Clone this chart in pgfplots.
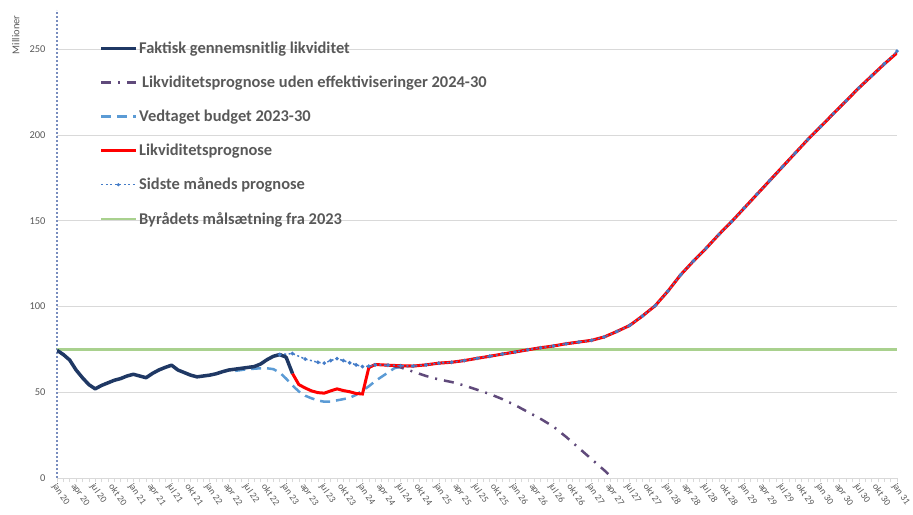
\documentclass[border=0pt]{standalone}
\usepackage{pgfplots}
\pgfplotsset{compat=1.18}
\usepackage{fontspec}
\setmainfont{Carlito}
\definecolor{navyc}{RGB}{31,56,100}
\definecolor{purplec}{RGB}{96,74,123}
\definecolor{budgetc}{RGB}{91,155,213}
\definecolor{sidstec}{RGB}{68,124,200}
\definecolor{greenc}{RGB}{169,209,142}
\definecolor{txtc}{RGB}{89,89,89}
\definecolor{gridc}{RGB}{217,217,217}
\definecolor{yaxc}{RGB}{120,140,190}
\begin{document}
\begin{tikzpicture}
\path[use as bounding box] (-57bp,-37bp) rectangle (856bp,478bp);
\begin{axis}[
  at={(0,0)}, anchor=south west,
  scale only axis, width=840bp, height=468bp,
  xmin=0, xmax=132, ymin=0, ymax=273,
  axis x line*=bottom, axis y line*=left,
  x axis line style={draw=gridc, line width=0.8bp},
  y axis line style={draw=yaxc, line width=1.6bp, dash pattern=on 2bp off 2bp},
  xtick={0,3,...,132},
  xticklabels={jan 20,apr 20,jul 20,okt 20,jan 21,apr 21,jul 21,okt 21,jan 22,apr 22,jul 22,okt 22,jan 23,apr 23,jul 23,okt 23,jan 24,apr 24,jul 24,okt 24,jan 25,apr 25,jul 25,okt 25,jan 26,apr 26,jul 26,okt 26,jan 27,apr 27,jul 27,okt 27,jan 28,apr 28,jul 28,okt 28,jan 29,apr 29,jul 29,okt 29,jan 30,apr 30,jul 30,okt 30,jan 31},
  minor x tick num=2,
  tick align=outside,
  major tick length=4bp, minor tick length=4bp,
  xtick style={draw=gridc, line width=0.6bp},
  ytick={0,50,...,250},
  ytick style={draw=none},
  ymajorgrids, grid style={draw=gridc, line width=0.8bp},
  /pgf/number format/assume math mode=true,
  ticklabel style={font=\fontsize{10.5}{12}\selectfont, text=txtc},
  xticklabel style={rotate=-55, anchor=west, xshift=-3bp, yshift=-4bp, font=\fontsize{9.5}{11}\selectfont},
  yticklabel style={xshift=-4bp},
  ylabel={Millioner},
  ylabel style={at={(axis description cs:-0.049,0.947)}, anchor=center, font=\fontsize{10.5}{12}\selectfont, text=txtc},
  legend image code/.code={\draw[mark repeat=2,mark phase=2,#1] plot coordinates {(0bp,0bp) (17bp,0bp) (35bp,0bp)};},
  legend style={at={(0.047,0.9386)}, anchor=north west, draw=none, fill=none,
     font=\fontsize{16.5}{18}\selectfont\bfseries, text=txtc, row sep=19bp,
     nodes={inner sep=1bp}, legend cell align=left},
]
% green target
\addplot[forget plot, greenc, line width=2.2bp] coordinates {(0,75) (132,75)};
% budget
\addplot[forget plot, budgetc, line width=2.5bp, dash pattern=on 10bp off 6bp] coordinates {
(28,62.5) (30,63.5) (32,64) (33,64) (34,63.5) (35,61.5) (36,58) (37,54) (38,50.5) (39,48) (40,46.5) (41,45.2) (42,44.5) (43,44.6) (44,45.3) (45,46) (46,46.8) (47,48.5) (48,51) (49,53.5) (50,56.5) (51,59) (52,61.5) (53,64) (54,65) (56,65.3) (58,66) (60,67) (62,67.5) (64,68.5) (66,69.8) (68,71) (70,72.3) (72,73.5) (74,74.8) (76,76) (78,77) (80,78.3) (82,79.3) (84,80.3) (86,82.3) (88,85.5) (90,89) (92,94.5) (94,100.5) (96,109) (98,118.5) (100,126.5) (102,134) (104,142) (106,149.5) (108,157.5) (110,165.5) (112,173.5) (114,181.5) (116,189.5) (118,197.5) (120,205) (122,212.5) (124,220) (126,227.5) (128,234.5) (130,241.5) (132,248)};
% dash-dot
\addplot[forget plot, purplec, line width=2.5bp, dash pattern=on 10bp off 7bp on 2bp off 7bp] coordinates {
(49,64.4) (50,66.2) (52,65.8) (54,64.5) (56,62) (58,59.5) (60,57.5) (62,56) (64,54) (66,51.5) (68,49) (70,46) (72,42.5) (74,38.5) (76,34.5) (78,30) (80,24) (82,17.5) (84,11) (86,4.5) (87.3,0)};
% red
\addplot[forget plot, red, line width=3bp] coordinates {
(37,61) (38,54.5) (39,52.5) (40,50.8) (41,49.8) (42,49.5) (43,50.8) (44,52) (45,51) (46,50.3) (47,49.3) (48,49) (49,64.4) (50,66.2) (52,65.8) (54,65.5) (56,65.3) (58,66) (60,67) (62,67.5) (64,68.5) (66,69.8) (68,71) (70,72.3) (72,73.5) (74,74.8) (76,76) (78,77) (80,78.3) (82,79.3) (84,80.3) (86,82.3) (88,85.5) (90,89) (92,94.5) (94,100.5) (96,109) (98,118.5) (100,126.5) (102,134) (104,142) (106,149.5) (108,157.5) (110,165.5) (112,173.5) (114,181.5) (116,189.5) (118,197.5) (120,205) (122,212.5) (124,220) (126,227.5) (128,234.5) (130,241.5) (132,248)};
% sidste maaneds prognose
\addplot[forget plot, sidstec, line width=1.5bp, dash pattern=on 2bp off 2.5bp, mark=*, mark size=1bp, mark options={solid}] coordinates {
(35,72) (37,72.6) (39,69.4) (41,67.5) (42,67) (43,68.5) (44,69.6) (45,68.5) (46,67.2) (47,66) (48,65) (49,65.2) (50,66) (52,65.8) (54,65.5) (56,65.3) (58,66) (60,67) (62,67.5) (64,68.5) (66,69.8) (68,71) (70,72.3) (72,73.5) (74,74.8) (76,76) (78,77) (80,78.3) (82,79.3) (84,80.3) (86,82.3) (88,85.5) (90,89) (92,94.5) (94,100.5) (96,109) (98,118.5) (100,126.5) (102,134) (104,142) (106,149.5) (108,157.5) (110,165.5) (112,173.5) (114,181.5) (116,189.5) (118,197.5) (120,205) (122,212.5) (124,220) (126,227.5) (128,234.5) (130,241.5) (132,249)};
% faktisk
\addplot[forget plot, navyc, line width=3.5bp, line join=round] coordinates {
(0,74.5) (1,72) (2,68.8) (3,63) (4,58.5) (5,54.5) (6,52) (7,54) (8,55.5) (9,57) (10,58) (11,59.5) (12,60.5) (13,59.5) (14,58.5) (15,61) (16,63) (17,64.5) (18,65.8) (19,63) (20,61.5) (21,60) (22,59) (23,59.5) (24,60) (25,60.8) (26,62) (27,63) (28,63.5) (29,64) (30,64.5) (31,65) (32,66.5) (33,69) (34,71) (35,72) (36,70.5) (37,61)};
% legend
\addlegendimage{navyc, line width=3.5bp}
\addlegendentry{Faktisk gennemsnitlig likviditet}
\addlegendimage{purplec, line width=2.5bp, dash pattern=on 10bp off 7bp on 2bp off 7bp}
\addlegendentry{\hspace{3bp}Likviditetsprognose uden effektiviseringer 2024-30}
\addlegendimage{budgetc, line width=2.5bp, dash pattern=on 10bp off 6bp}
\addlegendentry{Vedtaget budget 2023-30}
\addlegendimage{red, line width=3bp}
\addlegendentry{Likviditetsprognose}
\addlegendimage{sidstec, line width=1bp, dash pattern=on 2bp off 2.5bp, mark=*, mark size=1bp, mark options={solid}}
\addlegendentry{Sidste måneds prognose}
\addlegendimage{greenc, line width=2.2bp}
\addlegendentry{Byrådets målsætning fra 2023}
\end{axis}
\end{tikzpicture}
\end{document}
